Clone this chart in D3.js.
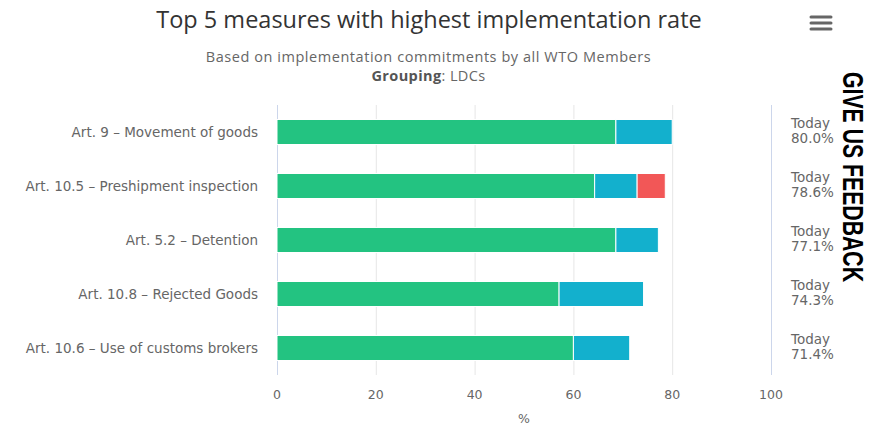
<!DOCTYPE html>
<html>
<head>
<meta charset="utf-8">
<script src="https://cdn.jsdelivr.net/npm/d3@7"></script>
<style>
  body { margin: 0; background: #fff; }
  svg { display: block; font-family: 'DejaVu Sans', sans-serif; }
</style>
</head>
<body>
<div id="chart"></div>
<script>
const categories = [
  'Art. 9 - Movement of goods',
  'Art. 10.5 - Preshipment inspection',
  'Art. 5.2 - Detention',
  'Art. 10.8 - Rejected Goods',
  'Art. 10.6 - Use of customs brokers'
];
const implemented = [68.6, 64.3, 68.6, 57.1, 60.0];
const planned = [11.4, 8.6, 8.6, 17.1, 11.4];
const delayed = [0, 5.7, 0, 0, 0];
const todayLabels = ['80.0%', '78.6%', '77.1%', '74.3%', '71.4%'];
const xTicks = [0, 20, 40, 60, 80, 100];

const seriesColors = ['#23c381', '#13b0cd', '#f25757'];

const width = 874, height = 429;
const svg = d3.select('#chart').append('svg')
  .attr('width', width)
  .attr('height', height);

const x = d3.scaleLinear().domain([0, 100]).range([277, 771]);
const y = d3.scaleBand().domain(categories).range([105, 375])
  .paddingInner(0.537).paddingOuter(0.2685);

// gridlines
svg.append('g')
  .selectAll('line')
  .data(xTicks)
  .join('line')
  .attr('x1', d => x(d) + 0.5)
  .attr('x2', d => x(d) + 0.5)
  .attr('y1', 105)
  .attr('y2', 375)
  .attr('stroke', d => d === 100 ? '#ccd6eb' : '#e6e6e6')
  .attr('stroke-width', 1);

// left axis line
svg.append('line')
  .attr('x1', x(0) + 0.5).attr('x2', x(0) + 0.5)
  .attr('y1', 105).attr('y2', 375)
  .attr('stroke', '#ccd6eb');

// stacked bars
const stackData = categories.map((c, i) => ({ cat: c, a: implemented[i], b: planned[i], c: delayed[i] }));
const stacked = d3.stack().keys(['a', 'b', 'c'])(stackData);

svg.append('g')
  .selectAll('g')
  .data(stacked)
  .join('g')
  .attr('fill', (_, i) => seriesColors[i])
  .selectAll('rect')
  .data(d => d.filter(p => p[1] - p[0] > 0))
  .join('rect')
  .attr('x', d => x(d[0]))
  .attr('y', d => y(d.data.cat))
  .attr('width', d => x(d[1]) - x(d[0]))
  .attr('height', y.bandwidth())
  .attr('stroke', '#fff')
  .attr('stroke-width', 1);

// category labels
svg.append('g')
  .selectAll('text')
  .data(categories)
  .join('text')
  .attr('x', 258)
  .attr('y', d => y(d) + y.bandwidth() / 2 + 5)
  .attr('text-anchor', 'end')
  .attr('font-size', 13.5)
  .attr('fill', '#666')
  .text(d => d.replace(' - ', ' \u2013 '));

// x tick labels
svg.append('g')
  .selectAll('text')
  .data(xTicks)
  .join('text')
  .attr('x', d => x(d))
  .attr('y', 399)
  .attr('text-anchor', 'middle')
  .attr('font-size', 12.5)
  .attr('fill', '#666')
  .text(d => d);

svg.append('text')
  .attr('x', x(50))
  .attr('y', 423)
  .attr('text-anchor', 'middle')
  .attr('font-size', 12.5)
  .attr('fill', '#666')
  .text('%');

// right side labels
const right = svg.append('g')
  .selectAll('g')
  .data(categories)
  .join('g')
  .attr('transform', d => `translate(791, ${y(d) + y.bandwidth() / 2})`);
right.append('text')
  .attr('y', -4.5)
  .attr('font-size', 13.5)
  .attr('fill', '#666')
  .text('Today');
right.append('text')
  .attr('y', 11)
  .attr('font-size', 13.5)
  .attr('fill', '#666')
  .text((_, i) => todayLabels[i]);

// titles
svg.append('text')
  .attr('x', 429)
  .attr('y', 28)
  .attr('text-anchor', 'middle')
  .attr('font-family', "'Open Sans', sans-serif")
  .attr('font-size', 23.5)
  .attr('fill', '#333')
  .text('Top 5 measures with highest implementation rate');

svg.append('text')
  .attr('x', 428.5)
  .attr('y', 62)
  .attr('text-anchor', 'middle')
  .attr('font-family', "'Open Sans', sans-serif")
  .attr('font-size', 14.5)
  .attr('letter-spacing', 0.55)
  .attr('fill', '#666')
  .text('Based on implementation commitments by all WTO Members');

const grp = svg.append('text')
  .attr('x', 428.5)
  .attr('y', 81)
  .attr('text-anchor', 'middle')
  .attr('font-family', "'Open Sans', sans-serif")
  .attr('font-size', 14.5)
  .attr('letter-spacing', 0.4)
  .attr('fill', '#666');
grp.append('tspan').attr('font-weight', 'bold').attr('fill', '#555').text('Grouping');
grp.append('tspan').text(': LDCs');

// menu icon
svg.append('g')
  .selectAll('line')
  .data([17, 23, 29])
  .join('line')
  .attr('x1', 811).attr('x2', 831)
  .attr('y1', d => d).attr('y2', d => d)
  .attr('stroke', '#666')
  .attr('stroke-width', 3)
  .attr('stroke-linecap', 'round');

// feedback tab
svg.append('text')
  .attr('transform', 'translate(843, 72) rotate(90)')
  .attr('font-family', "'Liberation Sans Narrow', 'Arial Narrow', sans-serif")
  .attr('font-weight', 'bold')
  .attr('font-size', 29)
  .attr('fill', '#000')
  .attr('textLength', 210)
  .attr('lengthAdjust', 'spacingAndGlyphs')
  .text('GIVE US FEEDBACK');
</script>
</body>
</html>
